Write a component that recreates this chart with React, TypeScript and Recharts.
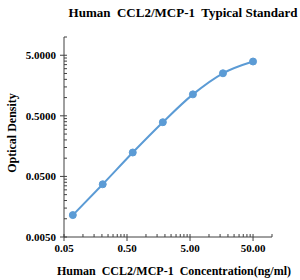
import { LineChart, Line, XAxis, YAxis } from "recharts";

const concentration = [0.069, 0.206, 0.617, 1.852, 5.556, 16.667, 50];
const opticalDensity = [0.0115, 0.0371, 0.124, 0.392, 1.13, 2.52, 3.94];

const X_MAJOR = [0.05, 0.5, 5, 50];
const Y_MAJOR = [0.005, 0.05, 0.5, 5];
const X_DOMAIN: [number, number] = [0.05, 100];
const Y_DOMAIN: [number, number] = [0.005, 10];

const FONT = "'Liberation Serif', 'Times New Roman', serif";
const AXIS = "#404040";
const BLUE = "#5B9BD5";

// Excel-style log minor ticks: major * 2..9 inside each decade
const withMinor = (majors: number[], max: number) => {
  const out: number[] = [];
  majors.forEach((m) => {
    out.push(m);
    for (let k = 2; k <= 9; k++) {
      if (m * k <= max * 1.0001) out.push(m * k);
    }
  });
  return out;
};

const xTicks = withMinor(X_MAJOR, X_DOMAIN[1]);
const yTicks = withMinor(Y_MAJOR, Y_DOMAIN[1]);

const data = concentration.map((c, i) => ({ x: c, y: opticalDensity[i] }));

const XTick = ({ x, y, payload }: any) => {
  const major = X_MAJOR.includes(payload.value);
  return (
    <g>
      <line x1={x} x2={x} y1={y - 3} y2={major ? y + 4 : y} stroke={AXIS} strokeWidth={1} />
      {major && (
        <text x={x} y={y + 15} textAnchor="middle" fontFamily={FONT} fontWeight="bold" fontSize={11} fill="#000">
          {payload.value.toFixed(2)}
        </text>
      )}
    </g>
  );
};

const YTick = ({ x, y, payload }: any) => {
  const major = Y_MAJOR.includes(payload.value);
  return (
    <g>
      <line x1={major ? x - 4 : x} x2={x + 3} y1={y} y2={y} stroke={AXIS} strokeWidth={1} />
      {major && (
        <text x={x - 8} y={y + 4} textAnchor="end" fontFamily={FONT} fontWeight="bold" fontSize={11} fill="#000">
          {payload.value.toFixed(4)}
        </text>
      )}
    </g>
  );
};

export default function App() {
  return (
    <div style={{ position: "absolute", left: 0, top: 0, width: 300, height: 280, background: "#fff", fontFamily: FONT }}>
      <div
        style={{
          position: "absolute",
          top: 5,
          left: 183,
          transform: "translateX(-50%)",
          fontWeight: "bold",
          fontSize: 13,
          whiteSpace: "pre",
        }}
      >
        {"Human  CCL2/MCP-1  Typical Standard"}
      </div>
      <div style={{ position: "absolute", top: 264, left: 40, width: 268, textAlign: "center", fontWeight: "bold", fontSize: 12, whiteSpace: "pre" }}>
        {"Human  CCL2/MCP-1  Concentration(ng/ml)"}
      </div>
      <div
        style={{
          position: "absolute",
          left: 12,
          top: 133,
          transform: "translate(-50%, -50%) rotate(-90deg)",
          fontWeight: "bold",
          fontSize: 12,
          whiteSpace: "nowrap",
        }}
      >
        Optical Density
      </div>
      <LineChart width={300} height={280} data={data} margin={{ top: 37, right: 28, left: 8, bottom: 13 }}>
        <XAxis
          dataKey="x"
          type="number"
          scale="log"
          domain={X_DOMAIN}
          ticks={xTicks}
          interval={0}
          tick={<XTick />}
          tickSize={0}
          tickMargin={0}
          tickLine={false}
          height={30}
          stroke={AXIS}
          allowDataOverflow
        />
        <YAxis
          dataKey="y"
          type="number"
          scale="log"
          domain={Y_DOMAIN}
          ticks={yTicks}
          interval={0}
          tick={<YTick />}
          tickSize={0}
          tickMargin={0}
          tickLine={false}
          width={56}
          stroke={AXIS}
          allowDataOverflow
        />
        <Line
          type="monotone"
          dataKey="y"
          stroke={BLUE}
          strokeWidth={2}
          dot={{ r: 3.5, fill: BLUE, stroke: BLUE, strokeWidth: 1 }}
          isAnimationActive={false}
        />
      </LineChart>
    </div>
  );
}
